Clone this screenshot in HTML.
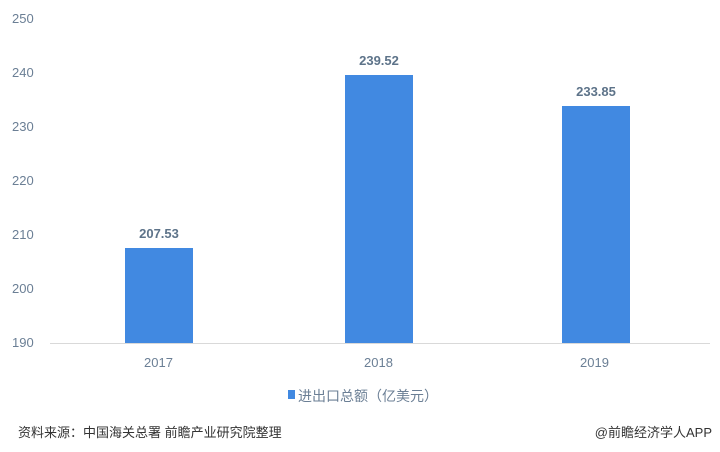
<!DOCTYPE html>
<html><head><meta charset="utf-8"><style>
body{margin:0;width:720px;height:452px;background:#fff;position:relative;overflow:hidden;font-family:"Liberation Sans","Noto Sans CJK SC",sans-serif}
.t{position:absolute;font-size:13px;color:#6b7f95}
.yl{position:absolute;left:12px;width:30px;text-align:left;font-size:13px;color:#6b7f95}
.bar{position:absolute;background:#4189e1;width:68px}
.v{position:absolute;width:100px;text-align:center;font-size:13px;font-weight:bold;color:#5d7389}
</style></head><body>
<div class="yl" style="top:11px">250</div>
<div class="yl" style="top:65px">240</div>
<div class="yl" style="top:119px">230</div>
<div class="yl" style="top:173px">220</div>
<div class="yl" style="top:227px">210</div>
<div class="yl" style="top:281px">200</div>
<div class="yl" style="top:335px">190</div>
<div style="position:absolute;left:50px;top:343px;width:660px;height:1px;background:#d9d9d9"></div>
<div class="bar" style="left:125px;top:248px;height:95px"></div>
<div class="bar" style="left:345px;top:75px;height:268px"></div>
<div class="bar" style="left:562px;top:106px;height:237px"></div>
<div class="v" style="left:109px;top:226px">207.53</div>
<div class="v" style="left:329px;top:53px">239.52</div>
<div class="v" style="left:546px;top:84px">233.85</div>
<div class="t" style="left:144px;top:355px">2017</div>
<div class="t" style="left:364px;top:355px">2018</div>
<div class="t" style="left:580px;top:355px">2019</div>
<div style="position:absolute;left:288px;top:390px;width:7px;height:9px;background:#4189e1"></div>
<div class="t" style="left:298px;top:386px;font-size:14px">进出口总额（亿美元）</div>
<div style="position:absolute;left:18px;top:422px;font-size:13px;color:#333">资料来源：中国海关总署 前瞻产业研究院整理</div>
<div style="position:absolute;right:8px;top:422px;font-size:13px;color:#333">@前瞻经济学人APP</div>
</body></html>
